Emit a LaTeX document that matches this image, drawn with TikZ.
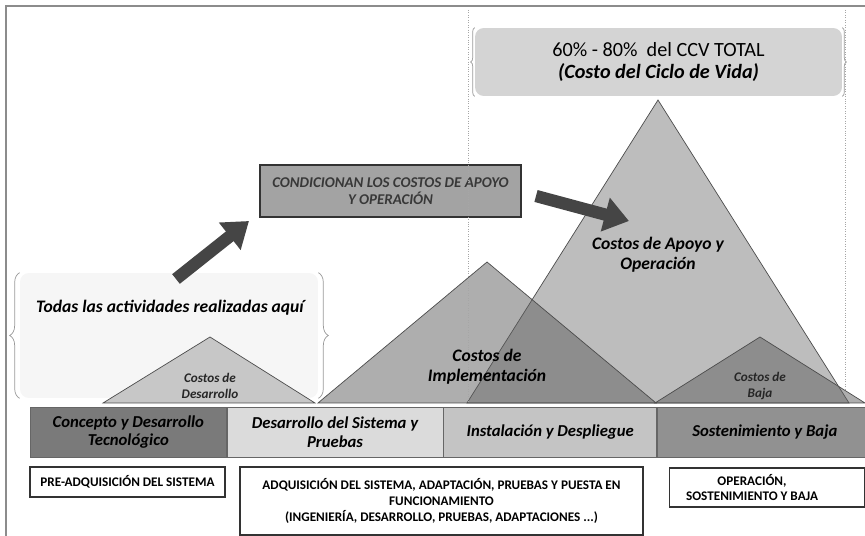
\documentclass[tikz,border=0pt]{standalone}
\usepackage{fontspec}
\setmainfont{Carlito}
\usetikzlibrary{positioning,arrows.meta,decorations.pathreplacing}
\definecolor{framegray}{gray}{0.55}
\definecolor{bigtri}{gray}{0.74}
\definecolor{devtri}{gray}{0.78}
\definecolor{midtri}{gray}{0.37}
\definecolor{arrowgray}{gray}{0.27}
\definecolor{condfill}{gray}{0.64}
\definecolor{condtext}{gray}{0.22}
\definecolor{ccvfill}{gray}{0.83}
\definecolor{phaseone}{gray}{0.48}
\definecolor{phasetwo}{gray}{0.86}
\definecolor{phasethree}{gray}{0.77}
\definecolor{phasefour}{gray}{0.57}
\tikzset{tri/.style = {draw=black!70, line join=miter}}
\tikzset{overtri/.style = {tri, fill=midtri, fill opacity=0.5}}
\tikzset{bracebox/.style = {rounded corners=5pt, inner sep=0pt}}
\tikzset{bracedraw/.style = {draw=gray!80, decorate, decoration={brace, amplitude=#1}}}
\tikzset{phase/.style = {draw=black!60, minimum height=1.0cm, inner sep=1pt, align=center,
  font=\fontsize{9.5}{10.5}\selectfont\bfseries\itshape}}
\tikzset{stage/.style = {draw=black!80, thick, fill=white, inner sep=0pt}}
\tikzset{stagetext/.style = {align=center, font=\fontsize{7.5}{9}\selectfont\bfseries}}
\tikzset{costlbl/.style = {align=center, font=\fontsize{10}{11.5}\selectfont\bfseries\itshape}}
\tikzset{smallcost/.style = {align=center, text=black!85, font=\fontsize{7.5}{9.5}\selectfont\bfseries\itshape}}
\tikzset{fatarrow/.style = {draw=arrowgray, line width=7pt, -{Triangle[width=19pt,length=14pt]}}}

\begin{document}
\begin{tikzpicture}[x=0.02cm, y=-0.02cm]
  \useasboundingbox (0,0) rectangle (865,536);

  % outer frame
  \draw[framegray, line width=1.6pt] (6,536) -- (6,6) -- (865,6);

  % brace box on the left
  \node [bracebox, fill=gray!7, minimum width=5.96cm, minimum height=2.5cm] (todas) at (169,335.5) {};
  \draw[bracedraw=0.2cm] (todas.south west) -- (todas.north west);
  \draw[bracedraw=0.2cm] (todas.north east) -- (todas.south east);
  \node [costlbl] (todastxt) at (170,308) {Todas las actividades realizadas aquí};

  % cost triangles
  \coordinate (bigtop) at (658,100);
  \coordinate (impltop) at (487,262);
  \coordinate (devtop) at (210,337);
  \coordinate (bajatop) at (760,337);
  \path[tri, fill=bigtri] (467,403) -- (bigtop) -- (849,403) -- cycle;
  \path[overtri] (318,403) -- (impltop) -- (656,403) -- cycle;
  \path[tri, fill=devtri] (103,403) -- (devtop) -- (315,403) -- cycle;
  \path[overtri] (655,403) -- (bajatop) -- (865,403) -- cycle;

  % boxes above
  \node [draw=black!80, thick, fill=condfill, minimum width=5.22cm, minimum height=1.04cm, align=center,
    text=condtext, font=\fontsize{8.5}{10}\selectfont\bfseries\itshape] (cond) at (390.5,191)
    {CONDICIONAN LOS COSTOS DE APOYO\\Y OPERACIÓN};
  \node [bracebox, fill=ccvfill, minimum width=7.34cm, minimum height=1.36cm, align=center,
    font=\fontsize{11.5}{13}\selectfont] (ccv) at (658.5,62)
    {60\% - 80\% \ del CCV TOTAL\\\textbf{\textit{(Costo del Ciclo de Vida)}}};
  \draw[bracedraw=0.08cm] (ccv.south west) -- (ccv.north west);
  \draw[bracedraw=0.08cm] (ccv.north east) -- (ccv.south east);

  % dotted guides
  \draw[gray!70, densely dotted] (468,10) -- (468,403);
  \draw[gray!70, densely dotted] (845,10) -- (845,390);

  % phase bar
  \node [phase, fill=phaseone, minimum width=3.92cm, anchor=west] (concepto) at (30,432) {Concepto y Desarrollo\\Tecnológico};
  \node [phase, fill=phasetwo, minimum width=4.32cm, right=0pt of concepto] (sistema) {Desarrollo del Sistema y\\Pruebas};
  \node [phase, fill=phasethree, minimum width=4.26cm, right=0pt of sistema] (instal) {Instalación y Despliegue};
  \node [phase, fill=phasefour, minimum width=4.3cm, right=0pt of instal] (sosten) {Sostenimiento y Baja};

  % stages below
  \node [stage, minimum width=3.9cm, minimum height=0.6cm, stagetext] (pre) at (127.5,482) {PRE-ADQUISICIÓN DEL SISTEMA};
  \node [stage, minimum width=8.06cm, minimum height=1.36cm, stagetext] (adq) at (441.5,501)
    {ADQUISICIÓN DEL SISTEMA, ADAPTACIÓN, PRUEBAS Y PUESTA EN\\FUNCIONAMIENTO\\(INGENIERÍA, DESARROLLO, PRUEBAS, ADAPTACIONES ...)};
  \node [stage, minimum width=3.9cm, minimum height=0.78cm] (oper) at (767,487.5) {};
  \node [stagetext] (opertxt) at (752,487.5) {OPERACIÓN,\\SOSTENIMIENTO Y BAJA};

  % arrows
  \coordinate (a1s) at (176,279);
  \coordinate (a1e) at (249,221);
  \coordinate (a2s) at (536,196);
  \coordinate (a2e) at (629,221);
  \draw[fatarrow] (a1s) -- (a1e);
  \draw[fatarrow] (a2s) -- (a2e);

  % labels
  \node [costlbl] (apoyo) at (658,255) {Costos de Apoyo y\\Operación};
  \node [costlbl] (impl) at (487,367) {Costos de\\Implementación};
  \node [smallcost] (dev) at (210,386) {Costos de\\Desarrollo};
  \node [smallcost] (baja) at (760,386) {Costos de\\Baja};
\end{tikzpicture}
\end{document}
